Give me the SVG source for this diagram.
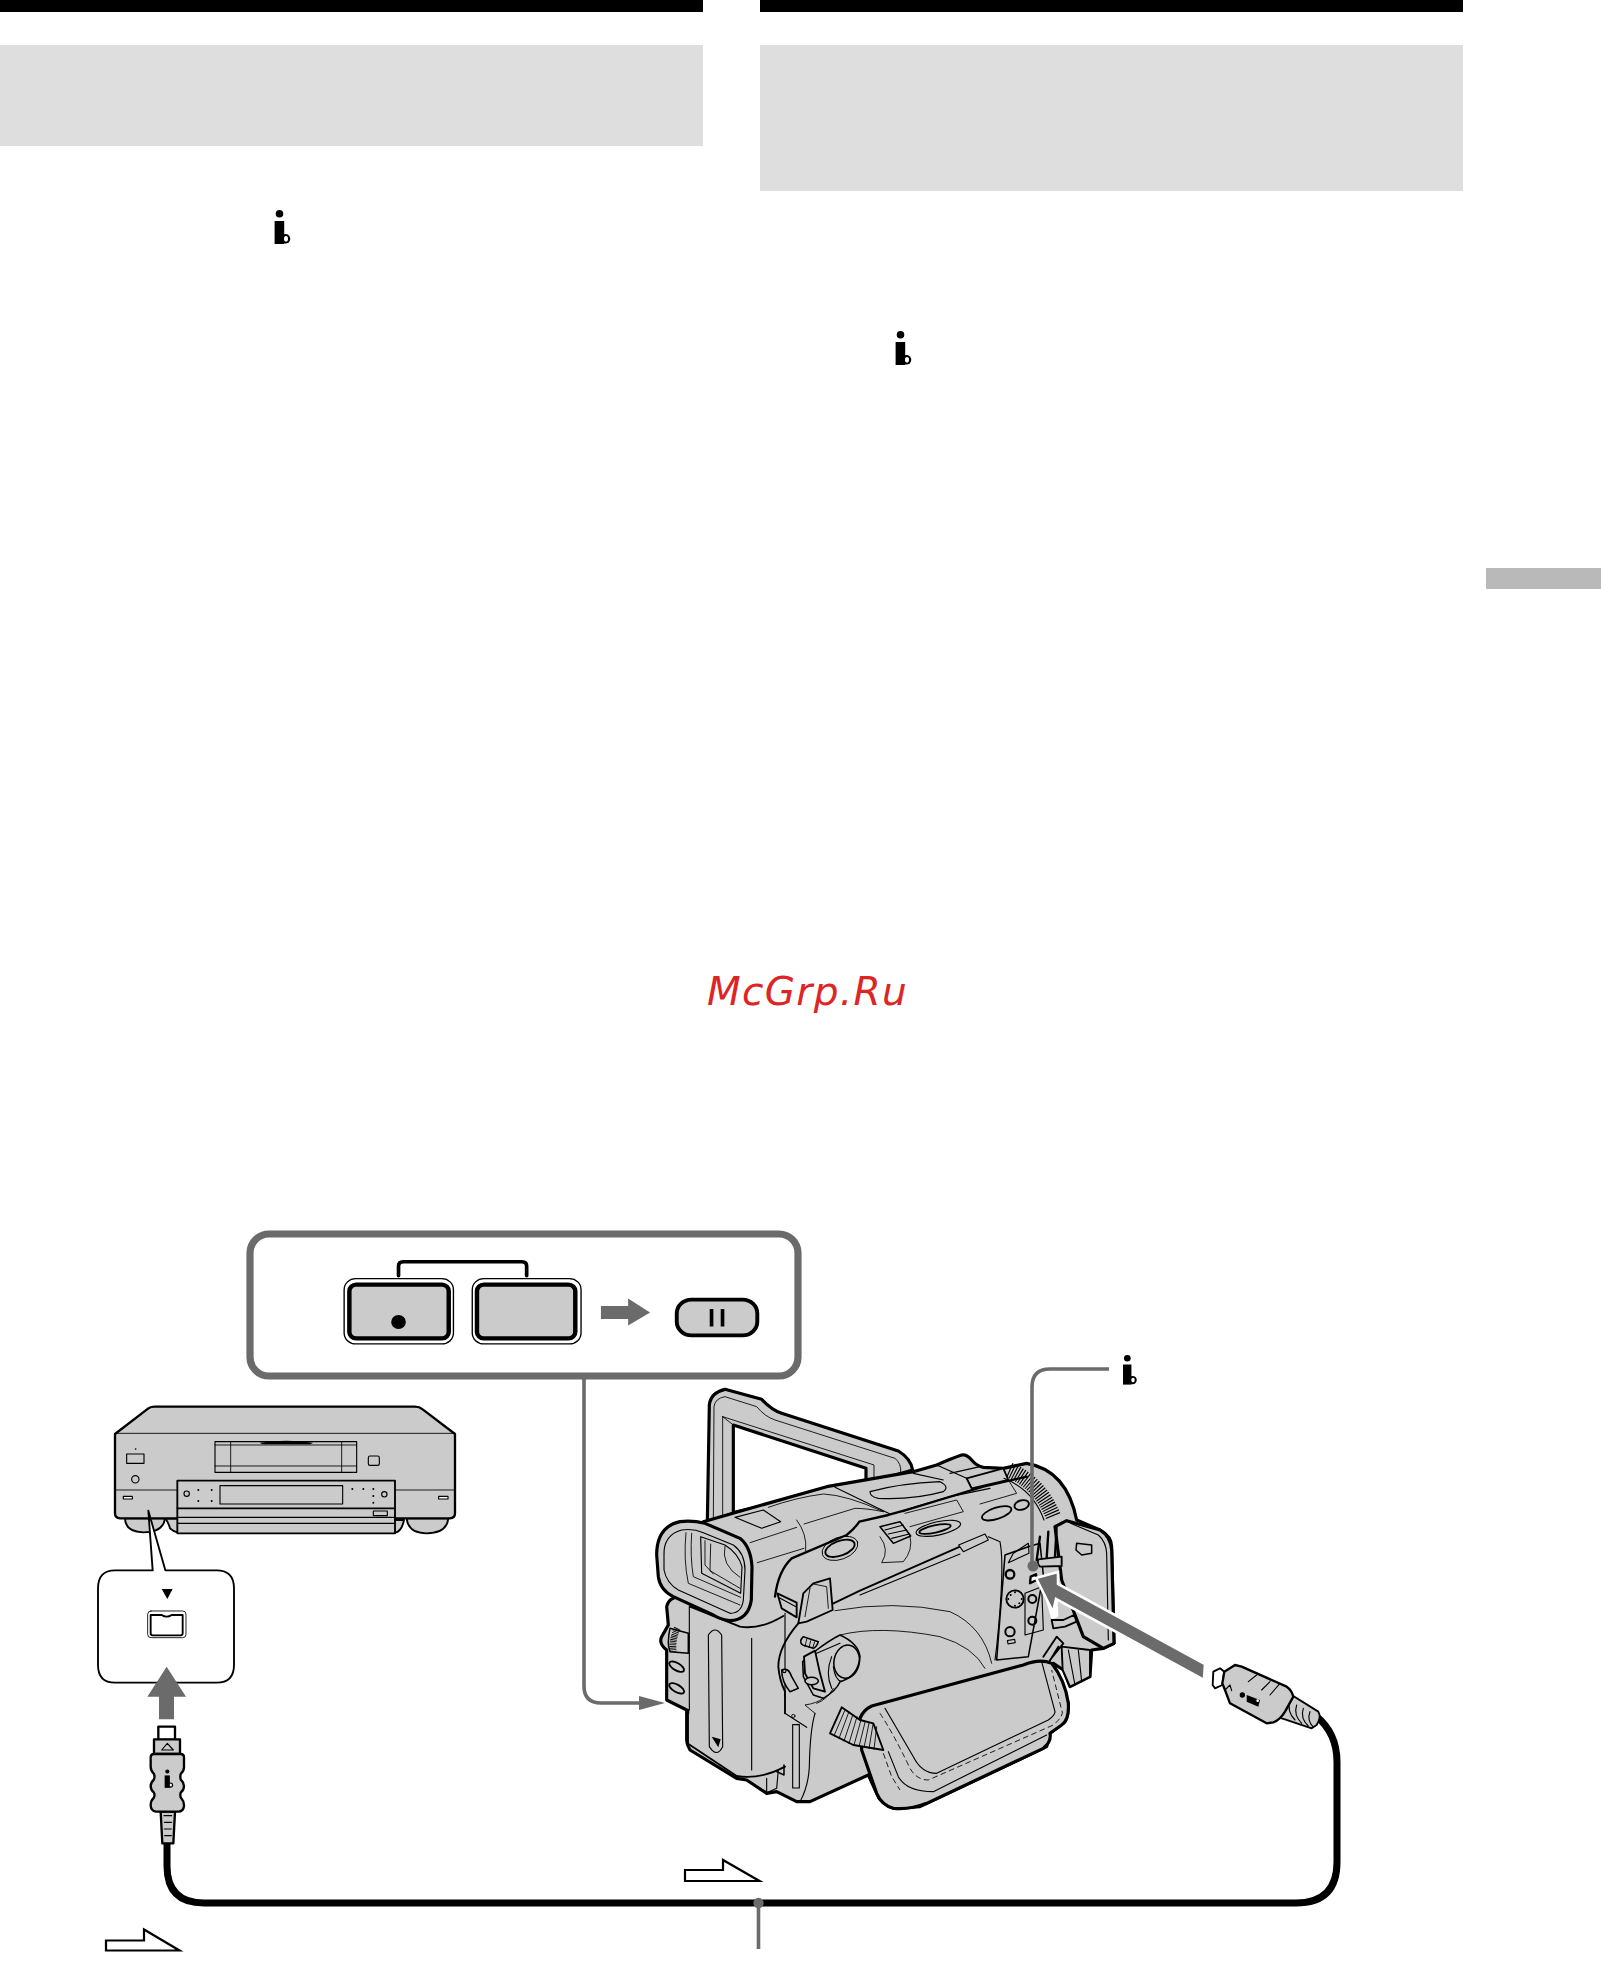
<svg xmlns="http://www.w3.org/2000/svg" xmlns:xlink="http://www.w3.org/1999/xlink" width="1601" height="1981" viewBox="0 0 1601 1981">
<style>
.g{fill:#cbcbcb}
.w{fill:#fff}
.n{fill:none}
.b{fill:#000}
.k{stroke:#000;stroke-linejoin:round;stroke-linecap:round}
.s8{stroke-width:9.5}.s6{stroke-width:7}.s5{stroke-width:5.6}.s4{stroke-width:4.6}.s3{stroke-width:3.4}.s2{stroke-width:2.6}
.lead{fill:none;stroke:#6b6b6b;stroke-width:3.6}
.ga{fill:#6b6b6b}
.dash{fill:none;stroke:#000;stroke-width:2.6;stroke-dasharray:17 10}
.hollow{fill:#fff;stroke:#000;stroke-width:2.2}
</style>
<defs>
<symbol id="ilink" viewBox="0 0 16 34" overflow="visible">
<circle cx="5.5" cy="3.8" r="3.8" fill="#000"/>
<rect x="0.6" y="11" width="9.6" height="23" fill="#000"/>
<circle cx="11.5" cy="28.8" r="4.8" fill="#000"/>
<ellipse cx="12" cy="28.8" rx="2" ry="2.8" fill="#fff"/>
</symbol>
<marker id="tipR" markerUnits="userSpaceOnUse" markerWidth="28" markerHeight="16" refX="0" refY="7" orient="auto"><path d="M0,0 L26,7 L0,14 Z" fill="#6b6b6b"/></marker>
</defs>
<rect width="1601" height="1981" fill="#fff"/>

<g id="page-bands">
<rect x="0" y="0" width="703" height="12" fill="#000"/>
<rect x="760" y="0" width="703" height="12" fill="#000"/>
<rect x="0" y="45" width="703" height="101" fill="#dedede"/>
<rect x="760" y="45" width="703" height="146" fill="#dedede"/>
<rect x="1486" y="568" width="115" height="21" fill="#b9b9b9"/>
</g>
<g id="icon-left"><use xlink:href="#ilink" href="#ilink" x="274" y="210" width="16" height="34"/></g>
<g id="icon-right"><use xlink:href="#ilink" href="#ilink" x="895" y="331" width="16" height="34"/></g>
<g id="watermark"><text x="707" y="1005" font-family="'DejaVu Sans',sans-serif" font-style="italic" font-size="39" letter-spacing="1.35" fill="#dd2525">McGrp.Ru</text></g>

<g id="connectors">
<path class="lead" d="M584,1378 V1686 Q584,1703 601,1703 H639" marker-end="url(#tipR)"/>
<path d="M167,1843 V1866 Q167,1903 204,1903 H1296 Q1337,1903 1337,1862 V1762 Q1337,1733 1316,1716" fill="none" stroke="#000" stroke-width="7"/>
<path class="lead" d="M758.5,1903 V1949"/>
<circle cx="758.5" cy="1903" r="5.2" class="ga"/>
</g>

<g id="button-panel">
<rect x="250" y="1234" width="548" height="142" rx="19" fill="#fff" stroke="#6b6b6b" stroke-width="7.2"/>
<g transform="translate(0,1200) scale(.523,.498)">
<path class="n k s6" d="M762,152 V133 Q762,124 771,124 H998 Q1007,124 1007,133 V152"/>
<rect x="658" y="158" width="209" height="131" rx="22" class="w k s2"/>
<rect x="668" y="170" width="190" height="108" rx="13" class="g k" stroke-width="8.5"/>
<circle cx="762" cy="245" r="14" class="b"/>
<rect x="903" y="158" width="208" height="131" rx="22" class="w k s2"/>
<rect x="912" y="170" width="188" height="108" rx="13" class="g k" stroke-width="8.5"/>
<path class="ga" d="M1149,213 H1201 V198 L1243,226 L1201,252 V239 H1149 Z"/>
<rect x="1294" y="200" width="154" height="72" rx="28" class="g k" stroke-width="7.5"/>
<rect x="1357" y="219" width="7" height="35" class="b"/><rect x="1378" y="219" width="7" height="35" class="b"/>
</g>
</g>

<g id="vcr" transform="translate(100,1390) scale(.33333)">
<path class="g k s5" d="M75,385 Q75,425 130,427 Q190,427 195,385 Z"/>
<path class="g k s5" d="M920,385 Q925,430 980,430 Q1040,430 1045,385 Z"/>
<path class="g k s5" d="M195,385 Q205,395 210,415 Q220,425 235,428 H885 Q905,425 912,390 Z"/>
<path class="g k s6" d="M45,132 L145,55 Q152,50 165,50 H945 Q958,50 968,58 L1065,132 V370 Q1065,385 1050,385 H60 Q45,385 45,370 Z"/>
<path class="n k s2" d="M45,130 H1065 M45,300 H232 M885,300 H1065"/>
<rect x="232" y="272" width="653" height="158" class="g k s5"/>
<path class="n k s3" d="M232,382 H885 M232,400 H885"/>
<path class="n k s5" d="M232,355 H885"/>
<rect x="345" y="155" width="425" height="92" class="n k s3"/>
<path class="n k s2" d="M392,155 V247 M725,155 V247 M345,228 H770 M345,165 H770"/>
<path class="b" d="M478,158 Q560,146 640,158 L630,163 H488 Z"/>
<rect x="805" y="198" width="33" height="28" rx="5" class="n k s3"/>
<rect x="80" y="192" width="52" height="28" class="n k s3"/>
<circle cx="107" cy="177" r="2.5" class="b"/>
<circle cx="106" cy="268" r="11" class="n k s3"/>
<rect x="70" y="319" width="27" height="8" class="w k s3"/><rect x="1016" y="319" width="28" height="8" class="w k s3"/>
<rect x="360" y="287" width="368" height="55" class="n k s3"/>
<circle cx="260" cy="311" r="8" class="n k s3"/><circle cx="853" cy="313" r="8" class="n k s3"/>
<g class="b"><circle cx="295" cy="300" r="3"/><circle cx="335" cy="300" r="3"/><circle cx="295" cy="333" r="3"/><circle cx="335" cy="333" r="3"/><circle cx="757" cy="297" r="3"/><circle cx="790" cy="297" r="3"/><circle cx="820" cy="297" r="3"/><circle cx="820" cy="318" r="3"/><circle cx="820" cy="338" r="3"/></g>
<rect x="820" y="363" width="42" height="14" class="n k s3"/>
</g>

<g id="callout" transform="translate(100,1390) scale(.33333)">
<path class="w" d="M158,541 L145,362 L196,541 H350 Q402,541 402,595 V825 Q402,878 350,878 H45 Q-6,878 -6,825 V595 Q-6,541 45,541 Z"/>
<path class="n k s5" d="M145,362 L158,541 H45 Q-6,541 -6,595 V825 Q-6,878 45,878 H350 Q402,878 402,825 V595 Q402,541 350,541 H196 L145,362"/>
<path class="b" d="M185,597 H218 L202,627 Z"/>
<rect x="143" y="663" width="115" height="80" rx="10" class="w k s2"/>
<path class="n k s5" d="M152,675 H185 Q200,685 215,675 H248 V730 Q248,736 242,736 H158 Q152,736 152,730 Z"/>
</g>

<g id="plug-left" transform="translate(130,1660) scale(.33333)">
<path class="ga" d="M110,20 L168,110 H132 V178 H87 V110 H52 Z"/>
<rect x="85" y="200" width="50" height="40" class="w k s6"/>
<rect x="72" y="238" width="78" height="44" class="g k s6"/>
<path class="n k s3" d="M95,270 H130 L112,250 Z"/>
<path class="g k s6" d="M92,455 H135 L130,550 H97 Z"/>
<path class="n k s3" d="M102,467 H125 M103,487 H125 M103,507 H124 M104,527 H124"/>
<path class="g k s6" d="M62,292 Q62,282 72,282 H152 Q162,282 162,292 V320 Q163,332 152,342 Q150,350 152,358 Q162,368 162,378 Q162,390 152,398 Q150,405 152,412 Q163,425 162,438 Q160,455 145,455 H78 Q62,453 62,436 Q62,422 72,412 Q75,405 72,398 Q62,390 62,378 Q62,368 72,358 Q75,350 72,342 Q62,332 62,320 Z"/>
<use xlink:href="#ilink" href="#ilink" x="103" y="325" width="26" height="62"/>
</g>

<g id="camcorder" transform="translate(650,1380) scale(.33333)">
<path class="g k s8" fill-rule="evenodd" d="M172,425 L178,75 Q182,38 225,28 L335,58 Q365,90 395,100 L745,213 Q782,235 788,270 L650,310 L250,400 Z M250,135 L648,265 L648,305 L250,398 Z"/>
<path class="n k s2" d="M190,420 L192,80 Q195,55 225,50 L320,80 Q345,110 375,120 L735,235 Q755,250 752,280 M218,110 L672,255 V298 M218,110 V410 M250,135 L218,110"/>
<path class="g k s8" d="M70,655 L160,425 L530,320 L790,275 L860,255 Q905,235 935,225 Q950,222 965,240 Q980,258 1000,262 L1060,265 L1130,250 Q1250,270 1280,420 L1350,450 Q1385,470 1385,500 L1392,790 L1360,805 L1325,810 L1320,890 L1260,920 L1240,870 L1210,850 L1255,970 Q1255,1020 1240,1030 L1200,1060 L1190,1100 L810,1280 L730,1285 Q690,1270 680,1240 L655,1185 L480,1265 L440,1265 L380,1235 L350,1240 L290,1200 L260,1195 L120,1110 Q110,1095 110,1080 V990 L50,960 V810 Q25,790 35,770 L55,735 L50,680 Q55,660 70,655 Z"/>

<!-- left grip, battery -->
<path class="n k s3" d="M118,680 V990 M115,990 V1090 M305,775 V1170 M405,700 V950"/>
<path class="n k s5" d="M120,680 L270,740 Q330,750 400,708"/>
<path class="n k s3" d="M175,765 Q195,735 215,765 L218,1100 Q200,1135 178,1100 Z"/>
<path class="b" d="M185,1070 L212,1078 L205,1102 Z"/>
<path class="n k s5" d="M115,990 V1000 M112,1090 L260,1188 Q330,1200 405,1160"/>
<path class="n k s3" d="M290,1200 L350,1238 L380,1225 L385,1170 M350,1195 V1238"/>
<path class="g k s4" d="M60,745 L115,760 V820 L60,815 Q50,790 60,745 Z"/>
<path d="M82,745 Q65,780 70,815" fill="none" stroke="#000" stroke-width="20" stroke-dasharray="2.5 2.5"/>
<ellipse cx="80" cy="860" rx="25" ry="11" transform="rotate(30 80 860)" class="n k s5"/>
<ellipse cx="80" cy="925" rx="25" ry="11" transform="rotate(30 80 925)" class="n k s5"/>

<!-- viewfinder -->
<path class="n k s2" d="M300,488 L440,442 M322,548 L462,505 M440,420 Q472,462 467,512 M355,382 Q440,352 520,342 Q590,345 700,395 M462,432 L615,385 Q650,385 700,395"/>
<path class="n k s3" d="M255,412 L340,390 L392,425 L335,445 Z"/>
<path class="g k s8" d="M20,525 Q20,440 90,425 Q125,420 165,430 L270,475 Q302,500 306,560 L304,660 Q295,720 240,722 Q215,720 190,705 L70,650 Q30,630 25,590 Z"/>
<path class="n k s3" d="M42,525 Q40,465 95,450 Q130,445 160,458 L250,495 Q285,520 285,570 L280,660 Q275,700 240,700 L85,630 Q50,610 42,570 Z"/>
<path class="n k s2" d="M108,458 Q100,540 115,610 L270,675 M125,460 Q120,530 130,590 L272,652"/>
<path class="n k s3" d="M152,470 L155,580 L272,640 L276,560 Q265,520 225,495 Z"/>
<path class="n k s2" d="M165,482 L165,555 L190,582 M182,492 L180,572 L270,625 M225,498 Q212,555 270,592"/>

<!-- top deck -->
<path class="n k s6" d="M375,650 Q385,572 425,535 L590,465 Q615,445 628,425 L715,405 L770,390 L1000,320 L1130,290"/>
<path class="n k s3" d="M555,322 L720,402 M660,335 Q750,310 870,305 Q900,320 880,335 Q790,360 685,355 Q660,350 660,335 Z M760,395 L770,388 L900,350 L1020,325 M790,280 L880,300"/>
<ellipse cx="570" cy="505" rx="46" ry="22" transform="rotate(-20 570 505)" class="g k s5"/>
<ellipse cx="570" cy="505" rx="56" ry="33" transform="rotate(-20 570 505)" class="n k s2"/>
<path class="g k s4" d="M690,440 L750,425 L782,468 L730,490 Z"/>
<path class="n k s3" d="M705,450 L760,435 M715,462 L770,450 M725,475 L778,462"/>
<path class="n k s2" d="M690,470 Q720,510 695,548 L760,545 Q790,510 780,468"/>
<ellipse cx="865" cy="445" rx="68" ry="20" transform="rotate(-12 865 445)" class="n k s3"/>
<ellipse cx="855" cy="447" rx="48" ry="11" transform="rotate(-12 855 447)" class="n k s5"/>
<ellipse cx="1040" cy="400" rx="46" ry="17" transform="rotate(-18 1040 400)" class="n k s5"/>
<ellipse cx="1115" cy="375" rx="22" ry="14" transform="rotate(-15 1115 375)" class="n k s5"/>
<path class="g k s5" d="M950,295 L1060,265 L1075,300 L965,325 Z"/>
<path class="n k s3" d="M860,255 L950,295 M900,280 L990,260 M965,325 L950,295"/>
<path class="n k s2" d="M765,400 L920,360 L940,395 L780,440 M1075,300 L1100,340 L990,372"/>

<!-- ring -->
<path d="M1078,270 Q1170,310 1210,410" fill="none" stroke="#000" stroke-width="46" stroke-dasharray="3.4 4.6"/>
<path class="n k s3" d="M1062,295 Q1150,330 1182,420"/>

<!-- front band -->
<path class="n k s5" d="M530,680 L630,632 L930,500"/>
<path class="g k s3" d="M926,495 L1005,462 L1015,480 L940,515 Z"/>
<path class="n k s3" d="M630,645 L930,522 M1015,470 L1050,485 Q1065,560 1040,800 L1035,840"/>
<path class="g k s5" d="M490,610 L540,595 L548,690 L470,725 L445,730 L460,640 Z"/>
<path class="n k s2" d="M480,625 L465,710 M490,612 L530,620 L535,685"/>
<path class="g k s5" d="M382,640 L440,668 V712 L395,685 Z"/>
<path class="n k s3" d="M385,652 L438,680"/>
<path class="n k s5" d="M445,730 Q385,800 385,860 Q388,900 405,935 M405,935 L405,1000"/>

<!-- body curves -->
<path class="n k s2" d="M570,765 Q690,735 870,770 Q970,800 1005,865 M555,692 Q730,660 900,695 Q1000,740 1025,850"/>

<!-- grip dial -->
<path class="g k s4" d="M570,765 Q625,790 630,830 Q625,890 570,905 Q560,930 520,955 L490,945 L460,890 L458,845 L500,810 Q540,780 570,765 Z"/>
<ellipse cx="590" cy="845" rx="38" ry="50" transform="rotate(10 590 845)" class="n k s4"/>
<path class="n k s3" d="M550,860 Q555,900 575,905 M500,820 L570,790 M545,830 Q525,880 545,925"/>
<path class="g k s5" d="M462,830 L495,812 L510,880 L525,935 L490,925 L465,880 Z"/>
<ellipse cx="485" cy="903" rx="20" ry="11" class="g k s4"/>
<path class="g k s4" d="M460,770 L505,785 Q500,800 490,805 L458,795 Q445,785 460,770 Z"/>
<path class="n k s2" d="M470,778 L465,800 M482,782 L477,803 M494,785 L488,805"/>
<path class="n k s2" d="M520,955 Q500,970 465,975 L495,1000 M550,925 Q530,960 500,970"/>
<path class="g k s4" d="M395,870 Q415,860 425,890 L445,925 L420,935 Q395,905 395,870 Z"/>
<circle cx="403" cy="873" r="5" class="n k s3"/>
<path class="n k s3" d="M405,1000 L470,1042 M495,1000 Q480,1050 478,1160 Q475,1220 450,1265"/>
<circle cx="430" cy="1008" r="5" class="n k s2"/>
<rect x="428" y="1034" width="20" height="190" class="n k s3"/>
<path class="n k s4" d="M402,1155 V1185 L380,1175"/>

<!-- connector panel -->
<path class="g k s4" d="M1065,525 L1135,500 L1170,490 L1180,585 L1135,830 L1040,840 L1050,710 Z"/>
<path class="n k s3" d="M1090,520 L1135,490 L1137,520 L1075,548 Z"/>
<circle cx="1080" cy="583" r="13" class="n k" stroke-width="7"/>
<circle cx="1095" cy="657" r="26" class="n k s5"/>
<g class="b"><circle cx="1075" cy="657" r="3"/><circle cx="1115" cy="657" r="3"/><circle cx="1095" cy="637" r="3"/><circle cx="1095" cy="677" r="3"/><circle cx="1082" cy="645" r="3"/><circle cx="1108" cy="670" r="3"/></g>
<path class="n k s3" d="M1125,640 L1175,620 L1180,750 L1125,765 Z"/>
<circle cx="1147" cy="657" r="12" class="n k" stroke-width="6"/>
<circle cx="1147" cy="722" r="12" class="n k" stroke-width="6"/>
<circle cx="1080" cy="755" r="14" class="n k" stroke-width="6"/>
<rect x="1073" y="780" width="22" height="10" class="n k s3" transform="rotate(-10 1084 785)"/>
<path class="w k s6" d="M1142,590 L1158,583 L1160,600 L1140,610 Z"/>

<!-- door and lower hinge -->
<path class="g k s8" d="M1215,440 L1250,422 L1350,450 Q1382,470 1385,510 L1392,790 L1360,805 L1300,770 L1235,600 Z"/>
<path class="n k s3" d="M1262,430 L1345,465 Q1368,485 1370,520 L1375,780"/>
<path class="g k s4" d="M1280,490 L1325,495 V520 L1295,525 L1278,510 Z"/>
<path class="n k" stroke-width="7" d="M1170,470 L1160,540 M1195,455 L1190,535 M1220,440 L1215,530"/>
<path class="g k s5" d="M1165,538 L1235,530 V558 L1170,560 Q1160,550 1165,538 Z"/>
<path class="w" d="M1183,645 L1222,640 L1225,710 L1205,720 Z"/>
<path class="g k s5" d="M1205,720 L1240,720 L1272,705 L1280,725 L1245,740 L1210,745 Z"/>
<path class="g k s5" d="M1235,800 L1320,810 V890 L1260,920 L1238,870 Z"/>
<path class="n k s3" d="M1255,810 L1275,915 M1285,810 L1295,905"/>
<path class="n k s5" d="M1180,830 L1220,770 L1240,790 L1200,840 M1195,850 L1225,800"/>

<!-- strap -->
<path class="g k s8" d="M630,1015 Q640,990 665,978 L1120,855 Q1170,835 1205,850 Q1245,900 1255,970 Q1258,1020 1235,1035 L1200,1060 Q1205,1085 1180,1105 L830,1270 Q780,1290 730,1285 Q695,1275 680,1240 L635,1110 Z"/>
<path class="n k s3" d="M705,985 L790,1130 Q815,1180 860,1180 L1195,1020 Q1215,1005 1215,995 L1175,845"/>
<path class="n k s3" d="M715,1115 L745,1190 Q770,1235 850,1235 L1190,1065"/>
<path class="dash" d="M690,1000 Q730,1060 780,1165 Q800,1200 835,1200 L1210,1035 Q1245,1005 1235,990 L1205,870"/>
<path class="dash" d="M700,1120 L725,1190 L750,1230"/>
<path class="g k s5" d="M575,982 L540,1060 L610,1095 L700,1110 L670,1030 L630,1020 Z"/>
<path class="n k s2" d="M585,990 L553,1065 M597,995 L567,1075 M609,1003 L582,1083 M621,1010 L597,1090 M633,1020 L612,1095 M645,1027 L627,1100 M657,1030 L642,1103 M669,1033 L657,1106 M680,1040 L672,1108"/>
</g>

<g id="insert-arrow">
<path class="ga" d="M1036,1578 L1058,1572 V1584 L1205,1664 L1204,1680 L1056,1599 L1053,1612 Z" stroke="#fff" stroke-width="2.6"/>
</g>

<g id="plug-right" transform="translate(1190,1640) scale(.33333)">
<path class="w k s5" d="M70,95 L90,85 L103,95 L97,135 L75,145 L68,135 Z"/>
<path class="g k s5" d="M305,165 L385,215 Q395,230 380,255 L365,265 L285,238 Q262,235 270,215 Z"/>
<path class="n k s3" d="M300,185 Q290,215 315,240 M320,195 Q310,225 335,250 M340,205 Q330,235 355,258 M360,215 Q350,240 370,262"/>
<path class="g k s6" d="M103,95 L135,75 L155,80 L290,140 Q305,150 310,170 L285,215 Q270,240 250,247 L230,250 L120,190 L105,150 L97,130 Z"/>
<path class="n k s3" d="M175,125 L200,105 M215,150 L240,125 M240,165 L270,130 M105,150 L120,135 L125,152"/>
<circle cx="157" cy="165" r="8" class="b"/>
<path class="b" d="M170,165 L210,180 L205,200 L170,185 Z"/>
<circle cx="203" cy="182" r="4" class="w"/>
</g>

<g id="icon-camera"><use xlink:href="#ilink" href="#ilink" x="1122.5" y="1353.5" width="14" height="32.5"/></g>
<g id="leader-ilink">
<path class="lead" d="M1109,1369 H1050 Q1032,1369 1032,1387 V1566"/>
<circle cx="1033" cy="1566" r="5.5" class="ga"/>
</g>
<g id="hollow-arrows">
<path class="hollow" d="M685,1870 H723 V1860 L759.5,1881 H685 Z"/>
<path class="hollow" d="M106,1940.5 H144 V1929.5 L179.5,1950.5 H106 Z"/>
</g>
</svg>
